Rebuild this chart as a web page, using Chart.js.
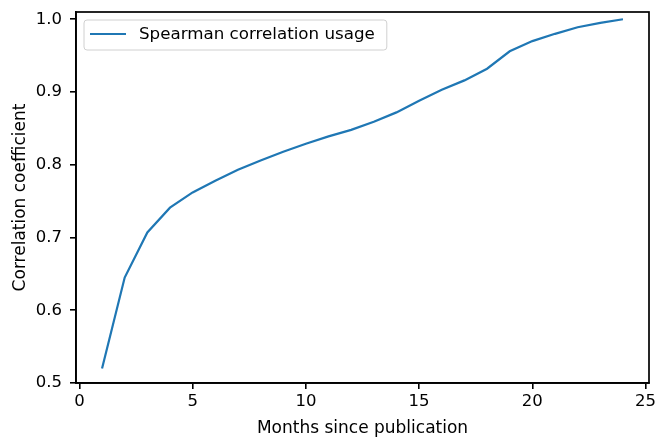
<!DOCTYPE html>
<html>
<head>
<meta charset="utf-8">
<script src="https://cdn.jsdelivr.net/npm/chart.js@4.4.1/dist/chart.umd.min.js"></script>
<style>
  html, body { margin: 0; padding: 0; background: #fff; }
  #wrap { width: 658px; height: 437px; }
</style>
</head>
<body>
<div id="wrap"><canvas id="c" width="658" height="437"></canvas></div>
<script>
// Months since publication and Spearman correlation of usage
const months = [1, 2, 3, 4, 5, 6, 7, 8, 9, 10, 11, 12, 13, 14, 15, 16, 17, 18, 19, 20, 21, 22, 23, 24];
const correlation = [0.520, 0.645, 0.707, 0.741, 0.762, 0.778, 0.793, 0.806, 0.818, 0.829, 0.839, 0.848,
                     0.859, 0.872, 0.888, 0.903, 0.916, 0.932, 0.956, 0.970, 0.980, 0.989, 0.995, 1.000];
const xTicks = [0, 5, 10, 15, 20, 25];
const yTicks = [0.5, 0.6, 0.7, 0.8, 0.9, 1.0];
const seriesLabel = 'Spearman correlation usage';

const FONT = 'DejaVu Sans';
const BLUE = '#1f77b4';

// Full frame around the plot area plus an in-plot legend box
const framePlugin = {
  id: 'frame',
  afterDatasetsDraw(chart) {
    const { ctx, chartArea: a } = chart;
    ctx.save();
    ctx.strokeStyle = '#000';
    ctx.lineWidth = 1.7;
    ctx.strokeRect(a.left, a.top, a.right - a.left, a.bottom - a.top);

    // legend
    const lx = a.left + 8, ly = a.top + 8, lh = 30;
    ctx.font = '16.7px "' + FONT + '"';
    const tw = ctx.measureText(chart.data.datasets[0].label).width;
    const lw = 55 + tw + 12;
    const r = 3;
    ctx.beginPath();
    ctx.moveTo(lx + r, ly);
    ctx.lineTo(lx + lw - r, ly);
    ctx.quadraticCurveTo(lx + lw, ly, lx + lw, ly + r);
    ctx.lineTo(lx + lw, ly + lh - r);
    ctx.quadraticCurveTo(lx + lw, ly + lh, lx + lw - r, ly + lh);
    ctx.lineTo(lx + r, ly + lh);
    ctx.quadraticCurveTo(lx, ly + lh, lx, ly + lh - r);
    ctx.lineTo(lx, ly + r);
    ctx.quadraticCurveTo(lx, ly, lx + r, ly);
    ctx.closePath();
    ctx.fillStyle = 'rgba(255,255,255,0.8)';
    ctx.fill();
    ctx.strokeStyle = '#d0d0d0';
    ctx.lineWidth = 1;
    ctx.stroke();

    ctx.strokeStyle = BLUE;
    ctx.lineWidth = 2.2;
    ctx.beginPath();
    ctx.moveTo(lx + 6, ly + 14);
    ctx.lineTo(lx + 42, ly + 14);
    ctx.stroke();

    ctx.fillStyle = '#000';
    ctx.textBaseline = 'middle';
    ctx.textAlign = 'left';
    ctx.fillText(chart.data.datasets[0].label, lx + 55, ly + 15);
    ctx.restore();
  }
};

new Chart(document.getElementById('c'), {
  type: 'line',
  data: {
    datasets: [{
      label: seriesLabel,
      data: months.map((m, i) => ({ x: m, y: correlation[i] })),
      borderColor: BLUE,
      borderWidth: 2.2,
      pointRadius: 0,
      tension: 0,
      fill: false
    }]
  },
  options: {
    responsive: false,
    animation: false,
    layout: { padding: { top: 12, right: 9, left: 0, bottom: 0 } },
    plugins: {
      legend: { display: false },
      tooltip: { enabled: false }
    },
    scales: {
      x: {
        type: 'linear',
        min: -0.15,
        max: 25.15,
        afterBuildTicks(s) { s.ticks = xTicks.map(v => ({ value: v })); },
        afterFit(s) { s.height = 54; s.paddingLeft = 0; s.paddingRight = 0; },
        ticks: {
          color: '#000',
          font: { family: FONT, size: 16.5 },
          padding: 3,
          maxRotation: 0,
          callback: v => String(v)
        },
        grid: { display: true, drawOnChartArea: false, drawTicks: true, tickLength: 6, color: '#000', lineWidth: 1.6 },
        border: { display: true, color: '#000', width: 1.7 },
        title: {
          display: true,
          text: 'Months since publication',
          color: '#000',
          font: { family: FONT, size: 17 },
          padding: { top: 0, bottom: -2 }
        }
      },
      y: {
        type: 'linear',
        min: 0.5,
        max: 1.01,
        afterBuildTicks(s) { s.ticks = yTicks.map(v => ({ value: v })); },
        afterFit(s) { s.width = 76; s.paddingTop = 0; s.paddingBottom = 0; },
        ticks: {
          color: '#000',
          font: { family: FONT, size: 16.5 },
          padding: 8,
          callback: v => Number(v).toFixed(1)
        },
        grid: { display: true, drawOnChartArea: false, drawTicks: true, tickLength: 6, color: '#000', lineWidth: 1.6 },
        border: { display: true, color: '#000', width: 1.7 },
        title: {
          display: true,
          text: 'Correlation coefficient',
          color: '#000',
          font: { family: FONT, size: 17 },
          padding: { top: 10, bottom: 0 }
        }
      }
    }
  },
  plugins: [framePlugin]
});
</script>
</body>
</html>
